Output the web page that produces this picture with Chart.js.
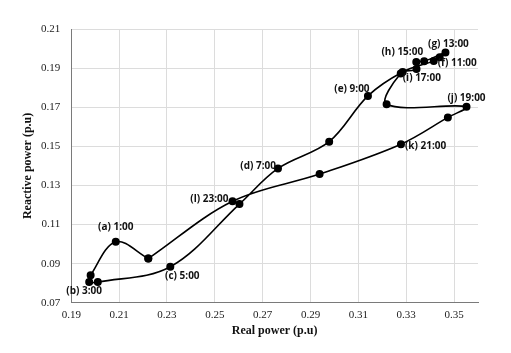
<!DOCTYPE html>
<html>
<head>
<meta charset="utf-8">
<script src="https://cdn.jsdelivr.net/npm/chart.js@4/dist/chart.umd.min.js"></script>
<style>
  html, body { margin: 0; padding: 0; background: #fff; }
  #wrap { width: 511px; height: 353px; }
</style>
</head>
<body>
<div id="wrap"><canvas id="pqLoop" width="511" height="353"></canvas></div>
<script>
/* Daily P-Q trajectory, hourly points 0:00 .. 23:00 (loop closes back to 0:00) */

const hours = ['0:00','1:00','2:00','3:00','4:00','5:00','6:00','7:00','8:00','9:00','10:00','11:00',
               '12:00','13:00','14:00','15:00','16:00','17:00','18:00','19:00','20:00','21:00','22:00','23:00'];

const realPower = [0.2222, 0.2086, 0.1981, 0.1975, 0.2011, 0.2314, 0.2603, 0.2764, 0.2978, 0.3140, 0.3285, 0.3415,
                   0.3440, 0.3464, 0.3375, 0.3342, 0.3343, 0.3277, 0.3218, 0.3552, 0.3474, 0.3278, 0.2938, 0.2574];

const reactivePower = [0.0926, 0.1012, 0.0841, 0.0806, 0.0806, 0.0884, 0.1205, 0.1387, 0.1524, 0.1758, 0.1880, 0.1937,
                       0.1955, 0.1980, 0.1935, 0.1931, 0.1895, 0.1872, 0.1715, 0.1703, 0.1648, 0.1511, 0.1358, 0.1219];

// letter tags for the labelled hours
const tags = ['', '(a)', '', '(b)', '', '(c)', '', '(d)', '', '(e)', '', '(f)',
              '', '(g)', '', '(h)', '', '(i)', '', '(j)', '', '(k)', '', '(l)'];

const xTicks = [0.19, 0.21, 0.23, 0.25, 0.27, 0.29, 0.31, 0.33, 0.35];
const yTicks = [0.07, 0.09, 0.11, 0.13, 0.15, 0.17, 0.19, 0.21];

// closed loop: repeat first point at the end
const points = realPower.map((x, i) => ({ x, y: reactivePower[i] }));
points.push({ x: realPower[0], y: reactivePower[0] });

/**
 * Hour labels next to the points (offsets in px: where the text sits relative to the marker)
 */
const labelPlace = {
  1:  { dx: 0,   dy: -15, align: 'center' },
  3:  { dx: -5,  dy: 9,   align: 'center' },
  5:  { dx: 12,  dy: 9,   align: 'center' },
  7:  { dx: -2,  dy: -2,  align: 'right' },
  9:  { dx: -16, dy: -7,  align: 'center' },
  11: { dx: 4,   dy: 2,   align: 'left' },
  13: { dx: 3,   dy: -8,  align: 'center' },
  15: { dx: -14, dy: -10, align: 'center' },
  17: { dx: 2,   dy: 5,   align: 'left' },
  19: { dx: 0,   dy: -8,  align: 'center' },
  21: { dx: 4,   dy: 2,   align: 'left' },
  23: { dx: -4,  dy: -2,  align: 'right' }
};

function hourLabelsPlugin() {
  return {
    id: 'hourLabels',
    afterDatasetsDraw(chart) {
      const { ctx } = chart;
      const meta = chart.getDatasetMeta(0);
      ctx.save();
      ctx.font = 'bold 10px "Open Sans", Arial, sans-serif';
      ctx.fillStyle = '#111';
      ctx.textBaseline = 'middle';
      hours.forEach((h, i) => {
        if (!tags[i]) return;
        const pt = meta.data[i];
        const p = labelPlace[i];
        ctx.textAlign = p.align;
        ctx.fillText(`${tags[i]} ${h}`, pt.x + p.dx, pt.y + p.dy);
      });
      ctx.restore();
    }
  };
}

const serif = '"Liberation Serif", "Times New Roman", serif';

new Chart(document.getElementById('pqLoop').getContext('2d'), {
  type: 'scatter',
  data: {
    datasets: [{
      data: points,
      showLine: true,
      borderColor: '#000',
      borderWidth: 1.6,
      backgroundColor: '#000',
      pointRadius: 3.2,
      pointHoverRadius: 3.2,
      tension: 0.35
    }]
  },
  options: {
    responsive: false,
    animation: false,
    layout: { padding: { left: 18, right: 33, top: 29, bottom: 16 } },
    scales: {
      x: {
        type: 'linear',
        min: 0.19,
        max: 0.36,
        afterBuildTicks: axis => { axis.ticks = xTicks.map(v => ({ value: v })); },
        ticks: {
          callback: v => v.toFixed(2),
          font: { family: serif, size: 11 },
          color: '#222',
          padding: 6,
          maxRotation: 0
        },
        grid: { color: '#dcdcdc', drawTicks: false },
        border: { color: '#7a7a7a', width: 1 },
        title: {
          display: true,
          text: 'Real power (p.u)',
          font: { family: serif, size: 12, weight: 'bold', lineHeight: 1 },
          color: '#111',
          padding: { top: -3, bottom: 0 }
        }
      },
      y: {
        type: 'linear',
        min: 0.07,
        max: 0.21,
        afterBuildTicks: axis => { axis.ticks = yTicks.map(v => ({ value: v })); },
        ticks: {
          callback: v => v.toFixed(2),
          font: { family: serif, size: 11 },
          color: '#222',
          padding: 11
        },
        grid: { color: '#dcdcdc', drawTicks: false },
        border: { color: '#7a7a7a', width: 1 },
        title: {
          display: true,
          text: 'Reactive power (p.u)',
          font: { family: serif, size: 12, weight: 'bold', lineHeight: 1 },
          color: '#111',
          padding: { top: 4, bottom: -4 }
        }
      }
    },
    plugins: {
      legend: { display: false },
      tooltip: { enabled: false }
    }
  },
  plugins: [hourLabelsPlugin()]
});
</script>
</body>
</html>
